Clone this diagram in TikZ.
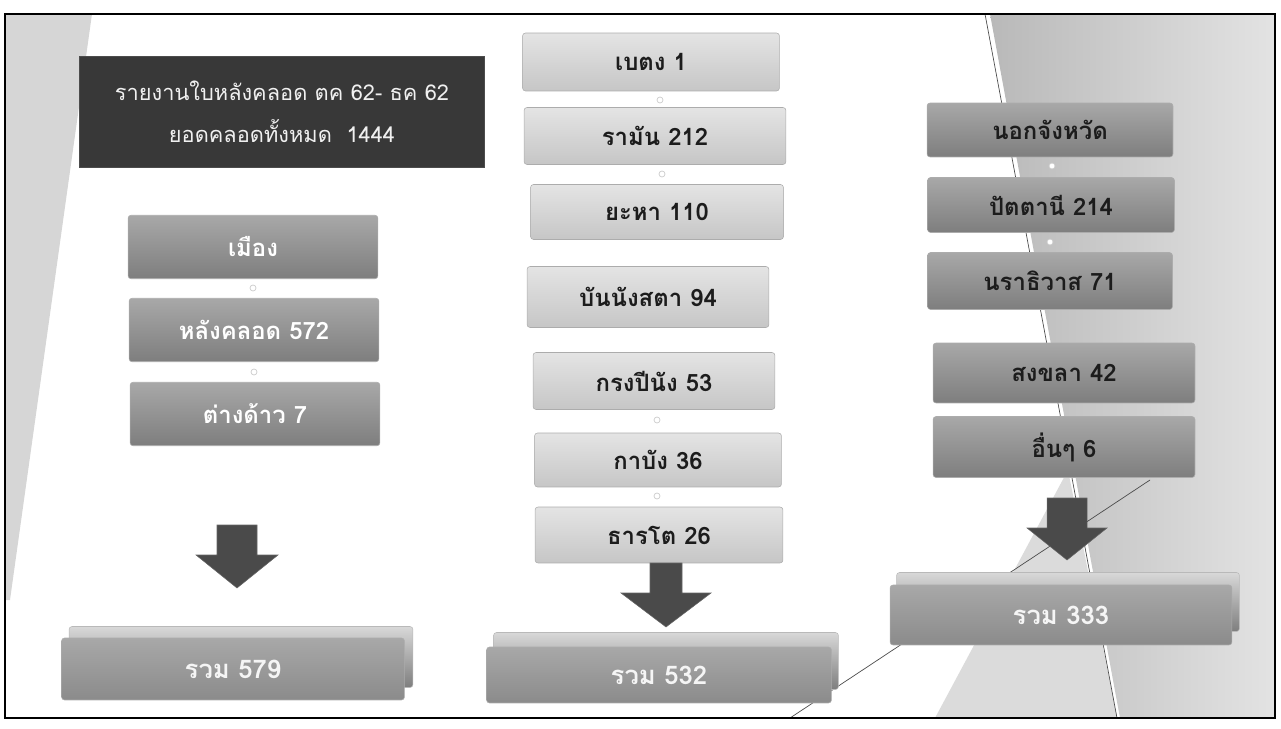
\documentclass[tikz,border=0pt]{standalone}
\usepackage{fontspec}
\newfontfamily\thai[Script=Thai]{Loma}
\usetikzlibrary{positioning}
\definecolor{titlegray}{RGB}{56,56,56}
\definecolor{midtop}{RGB}{168,168,168}
\definecolor{midbot}{RGB}{126,126,126}
\definecolor{lighttop}{RGB}{228,228,228}
\definecolor{lightbot}{RGB}{198,198,198}
\definecolor{arrowgray}{RGB}{74,74,74}
\definecolor{inkdark}{RGB}{28,28,28}

\begin{document}
\begin{tikzpicture}[x=0.02cm,y=-0.02cm,
  box/.style={rounded corners=0.06cm, inner sep=0pt, draw=gray!65, line width=0.3pt,
    font=\thai\bfseries\fontsize{13.6}{16}\selectfont},
  leftbox/.style={box, top color=midtop, bottom color=midbot, text=white,
    minimum width=5cm, minimum height=1.27cm},
  midbox/.style={box, top color=lighttop, bottom color=lightbot, text=inkdark},
  rightbox/.style={box, top color=midtop, bottom color=midbot, text=inkdark},
  totback/.style={box, top color=lighttop!80!midtop, bottom color=midbot, draw=gray!55},
  totbox/.style={box, top color=midtop, bottom color=midbot!90!white, text=white!92!gray,
    font=\thai\bfseries\fontsize{14.6}{16}\selectfont},
  bigarrow/.style={fill=arrowgray, draw=black!60, line width=0.3pt},
  dot/.style={circle, draw=gray!40, fill=white, inner sep=0pt, minimum size=0.12cm}]
  \useasboundingbox (0,0) rectangle (1281,729);
  % slide background
  \fill[gray!32] (5,14) -- (92,14) -- (10,600) -- (5,600) -- cycle;
  \shade[left color=gray!55, right color=gray!22] (990,14) -- (1275,14) -- (1275,718) -- (1120,718) -- cycle;
  \fill[gray!28] (935,718) -- (1117,718) -- (1068,470) -- cycle;
  \draw[black!70, line width=0.4pt] (985,14) -- (1117,718);
  \draw[black!70, line width=0.4pt] (790,718) -- (1150,480);
  \draw[line width=1pt] (5,14) rectangle (1275,718);

  % title
  \node[box, fill=titlegray, draw=black!70, rounded corners=0pt, text=white!88!gray,
    minimum width=8.1cm, minimum height=2.22cm, align=center,
    font=\thai\fontsize{12.4}{24}\selectfont] (title) at (282,112)
    {รายงานใบหลังคลอด ตค 62- ธค 62\\ยอดคลอดทั้งหมด\ \ 1444};

  % left column
  \node[leftbox] (muang) at (253,247) {เมือง};
  \node[leftbox] (lang) at (254,330) {หลังคลอด 572};
  \node[leftbox] (tang) at (255,414) {ต่างด้าว 7};
  \node[dot] (dl1) at (253,288) {};
  \node[dot] (dl2) at (254,372) {};
  \coordinate (arL) at (237,525);
  \filldraw[bigarrow, shift={(arL)}] (-20,0) -- (20,0) -- (20,30) -- (41,30) -- (0,63)
    -- (-41,30) -- (-20,30) -- cycle;
  \node[totback, minimum width=6.88cm, minimum height=1.22cm] (sumLb) at (241,657) {};
  \node[totbox, minimum width=6.86cm, minimum height=1.24cm] (sumL) at (233,669) {รวม 579};

  % middle column
  \node[midbox, minimum width=5.14cm, minimum height=1.16cm] (betong) at (651,62) {เบตง 1};
  \node[midbox, minimum width=5.24cm, minimum height=1.14cm] (raman) at (655,136) {รามัน 212};
  \node[midbox, minimum width=5.06cm, minimum height=1.1cm] (yaha) at (657,212) {ยะหา 110};
  \node[midbox, minimum width=4.84cm, minimum height=1.22cm] (bannang) at (648,297) {บันนังสตา 94};
  \node[midbox, minimum width=4.84cm, minimum height=1.14cm] (krong) at (654,381) {กรงปีนัง 53};
  \node[midbox, minimum width=4.94cm, minimum height=1.08cm] (kabang) at (658,460) {กาบัง 36};
  \node[midbox, minimum width=4.96cm, minimum height=1.12cm] (than) at (659,535) {ธารโต 26};
  \node[dot] (dm1) at (660,100) {};
  \node[dot] (dm2) at (662,174) {};
  \node[dot] (dm3) at (657,420) {};
  \node[dot] (dm4) at (657,496) {};
  \coordinate (arM) at (666,563);
  \filldraw[bigarrow, shift={(arM)}] (-16,0) -- (16,0) -- (16,30) -- (45,30) -- (0,64)
    -- (-45,30) -- (-16,30) -- cycle;
  \node[totback, minimum width=6.9cm, minimum height=1.14cm] (sumMb) at (666,661) {};
  \node[totbox, minimum width=6.9cm, minimum height=1.12cm] (sumM) at (659,675) {รวม 532};

  % right column
  \node[rightbox, minimum width=4.92cm, minimum height=1.08cm] (nok) at (1050,130) {นอกจังหวัด};
  \node[rightbox, minimum width=4.94cm, minimum height=1.1cm] (pattani) at (1051,205) {ปัตตานี 214};
  \node[rightbox, minimum width=4.9cm, minimum height=1.14cm] (nara) at (1050,281) {นราธิวาส 71};
  \node[rightbox, minimum width=5.24cm, minimum height=1.2cm] (songkhla) at (1064,373) {สงขลา 42};
  \node[rightbox, minimum width=5.24cm, minimum height=1.22cm] (uen) at (1064,447) {อื่นๆ 6};
  \node[dot] (dr1) at (1052,166) {};
  \node[dot] (dr2) at (1050,242) {};
  \coordinate (arR) at (1067,498);
  \filldraw[bigarrow, shift={(arR)}] (-20,0) -- (20,0) -- (20,30) -- (40,30) -- (0,62)
    -- (-40,30) -- (-20,30) -- cycle;
  \node[totback, minimum width=6.86cm, minimum height=1.18cm] (sumRb) at (1068,602) {};
  \node[totbox, minimum width=6.84cm, minimum height=1.2cm] (sumR) at (1061,615) {รวม 333};
\end{tikzpicture}
\end{document}
